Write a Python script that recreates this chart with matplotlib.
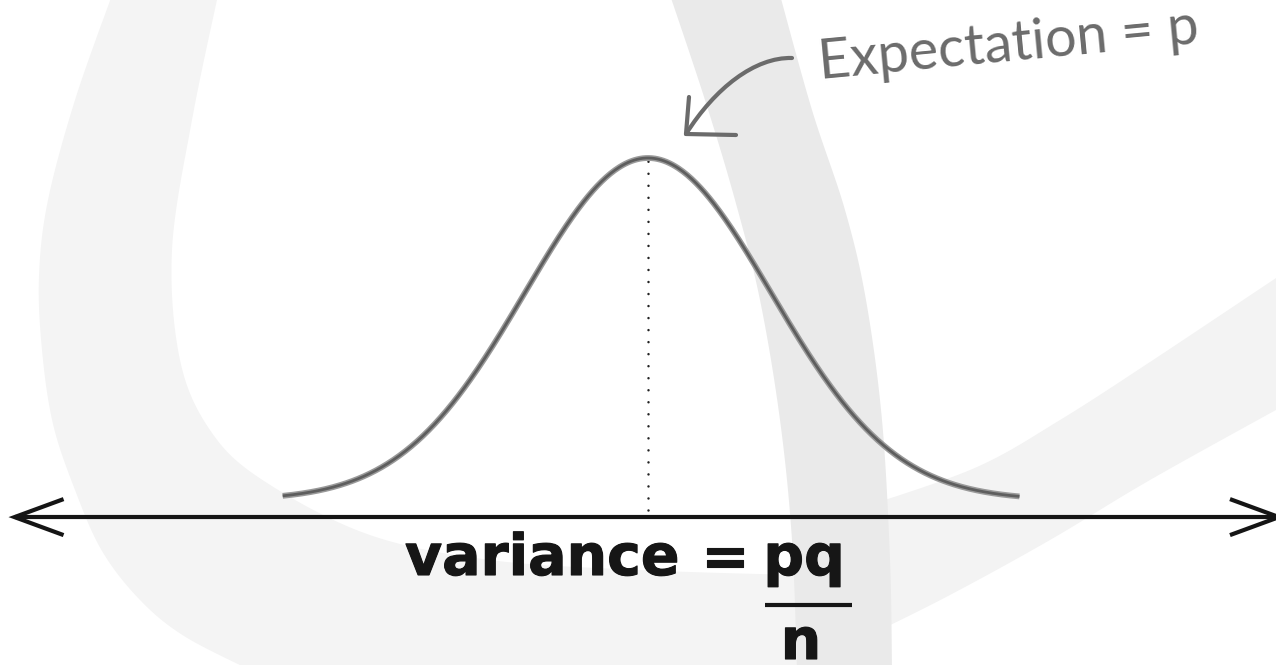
import numpy as np
import matplotlib
matplotlib.use('Agg')
import matplotlib.pyplot as plt
from matplotlib.path import Path
from matplotlib.patches import PathPatch, Polygon
import matplotlib.patheffects as pe

# ---------------- data ----------------
CURVE_MEAN = 0.0          # expectation (centre of the bell)
CURVE_SD = 1.0            # spread of the bell
CURVE_LEFT = -2.97        # curve drawn from ... (in sd units)
CURVE_RIGHT = 3.02        # ... to
AXIS_LEFT = -5.15         # horizontal number line extent
AXIS_RIGHT = 5.13
AXIS_LEVEL = -0.05
MEAN_LINE_TOP = 0.994
MEAN_LINE_BOTTOM = -0.03

LABEL_MAIN = ["variance", "=", "pq"]
LABEL_DENOM = "n"
LABEL_NOTE = "Expectation = p"

# ---------------- figure ----------------
W, H = 1276, 665
fig = plt.figure(figsize=(W / 100, H / 100), dpi=100)
fig.patch.set_facecolor('white')

# background / decoration axes in pixel units (y down)
bg = fig.add_axes([0, 0, 1, 1])
bg.set_xlim(0, W)
bg.set_ylim(H, 0)
bg.axis('off')

# data axes
PX_X, PX_Y = 123.0, 342.0       # pixels per unit
CX, CY = 648.0, 500.0           # pixel position of (0, 0)
ax = fig.add_axes([0, 0, 1, 1])
ax.set_xlim(-CX / PX_X, (W - CX) / PX_X)
ax.set_ylim(-(H - CY) / PX_Y, CY / PX_Y)
ax.patch.set_alpha(0)
ax.axis('off')


def smooth(pts, n=24):
    pts = np.asarray(pts, float)
    P = np.vstack([pts[0], pts, pts[-1]])
    out = []
    t = np.linspace(0, 1, n, endpoint=False)[:, None]
    for i in range(1, len(P) - 2):
        p0, p1, p2, p3 = P[i - 1], P[i], P[i + 1], P[i + 2]
        out.append(0.5 * ((2 * p1) + (-p0 + p2) * t + (2 * p0 - 5 * p1 + 4 * p2 - p3) * t ** 2
                          + (-p0 + 3 * p1 - 3 * p2 + p3) * t ** 3))
    out.append(pts[-1:])
    return np.vstack(out)


# watermark shapes
c_outer = smooth([(112, -5), (75, 100), (48, 200), (39, 276), (42, 350), (53, 424),
                  (75, 490), (102, 551), (140, 600), (184, 636), (250, 670)])
c_inner = smooth([(795, 575), (640, 570), (490, 560), (367, 534), (261, 479), (210, 430),
                  (180, 360), (172, 250), (192, 120), (218, -5)])
c_poly = np.vstack([c_outer, [(810, 670), (810, 575)], c_inner])
bg.add_patch(Polygon(c_poly, closed=True, fc='#f4f4f4', ec='none', zorder=0))

d_upper = smooth([(870, 505), (977, 467), (1060, 420), (1150, 362), (1285, 272)])
d_lower = smooth([(1285, 405), (1150, 480), (1050, 540), (950, 595), (870, 635)])
bg.add_patch(Polygon(np.vstack([d_upper, d_lower]), closed=True, fc='#f3f3f3', ec='none', zorder=0))

v_left = smooth([(670, -5), (705, 100), (735, 200), (760, 300), (780, 420), (792, 540), (797, 670)])
v_right = smooth([(892, 670), (890, 560), (882, 420), (866, 300), (845, 210), (812, 110), (780, -5)])
bg.add_patch(Polygon(np.vstack([v_left, v_right]), closed=True, fc='#eaeaea', ec='none', zorder=0.5))

# ---------------- bell curve ----------------
z = np.linspace(CURVE_LEFT, CURVE_RIGHT, 500)
dens = np.exp(-0.5 * ((z - CURVE_MEAN) / CURVE_SD) ** 2)
ax.plot(z, dens, color='#9a9a9a', lw=4.2, solid_capstyle='butt', zorder=3)
ax.plot(z, dens, color='#5e5e5e', lw=2.0, solid_capstyle='butt', zorder=3.1)

# dotted line at the mean
ax.plot([CURVE_MEAN, CURVE_MEAN], [MEAN_LINE_BOTTOM, MEAN_LINE_TOP], color='#222222',
        lw=1.8, linestyle=(0, (0.01, 4.8)), dash_capstyle='round', zorder=2)

# number line with open arrow heads
ax.plot([AXIS_LEFT, AXIS_RIGHT], [AXIS_LEVEL, AXIS_LEVEL], color='#151515', lw=3.0,
        solid_capstyle='butt', zorder=4)
hx, hy = 49 / PX_X, 18 / PX_Y
ax.plot([AXIS_LEFT + hx, AXIS_LEFT, AXIS_LEFT + hx],
        [AXIS_LEVEL + hy, AXIS_LEVEL, AXIS_LEVEL - hy],
        color='#151515', lw=3.0, solid_joinstyle='miter', solid_capstyle='butt', zorder=4)
ax.plot([AXIS_RIGHT - hx, AXIS_RIGHT, AXIS_RIGHT - hx],
        [AXIS_LEVEL + hy, AXIS_LEVEL, AXIS_LEVEL - hy],
        color='#151515', lw=3.0, solid_joinstyle='miter', solid_capstyle='butt', zorder=4)

# ---------------- texts ----------------
bold = dict(family=['DejaVu Sans'], fontweight='bold', fontsize=41,
            color='#161616',
            path_effects=[pe.withStroke(linewidth=0.8, foreground='#161616')])
bg.text(405, 575, LABEL_MAIN[0], ha='left', va='baseline', zorder=5, **bold)
bg.text(725, 575, LABEL_MAIN[1], ha='center', va='baseline', zorder=5, **bold)
bg.text(804, 575, LABEL_MAIN[2], ha='center', va='baseline', zorder=5, **bold)
bg.plot([765, 852], [605, 605], color='#161616', lw=3.0, solid_capstyle='butt', zorder=5)
bg.text(801, 659, LABEL_DENOM, ha='center', va='baseline', zorder=5, **bold)

note_col = '#6b6b6b'
bg.text(820, 79, LABEL_NOTE, rotation=5.4, rotation_mode='anchor', ha='left', va='baseline',
        family=['Lato', 'DejaVu Sans'], fontsize=40, color=note_col, zorder=5)

shaft = Path([(792, 58), (755, 57), (715, 88), (686, 134)],
             [Path.MOVETO, Path.CURVE4, Path.CURVE4, Path.CURVE4])
bg.add_patch(PathPatch(shaft, fill=False, ec=note_col, lw=3.0, capstyle='round', zorder=5))
bg.plot([689, 686, 736], [97, 134, 135], color=note_col, lw=3.0,
        solid_capstyle='round', solid_joinstyle='round', zorder=5)

fig.savefig('out.png', dpi=100, facecolor='white')
